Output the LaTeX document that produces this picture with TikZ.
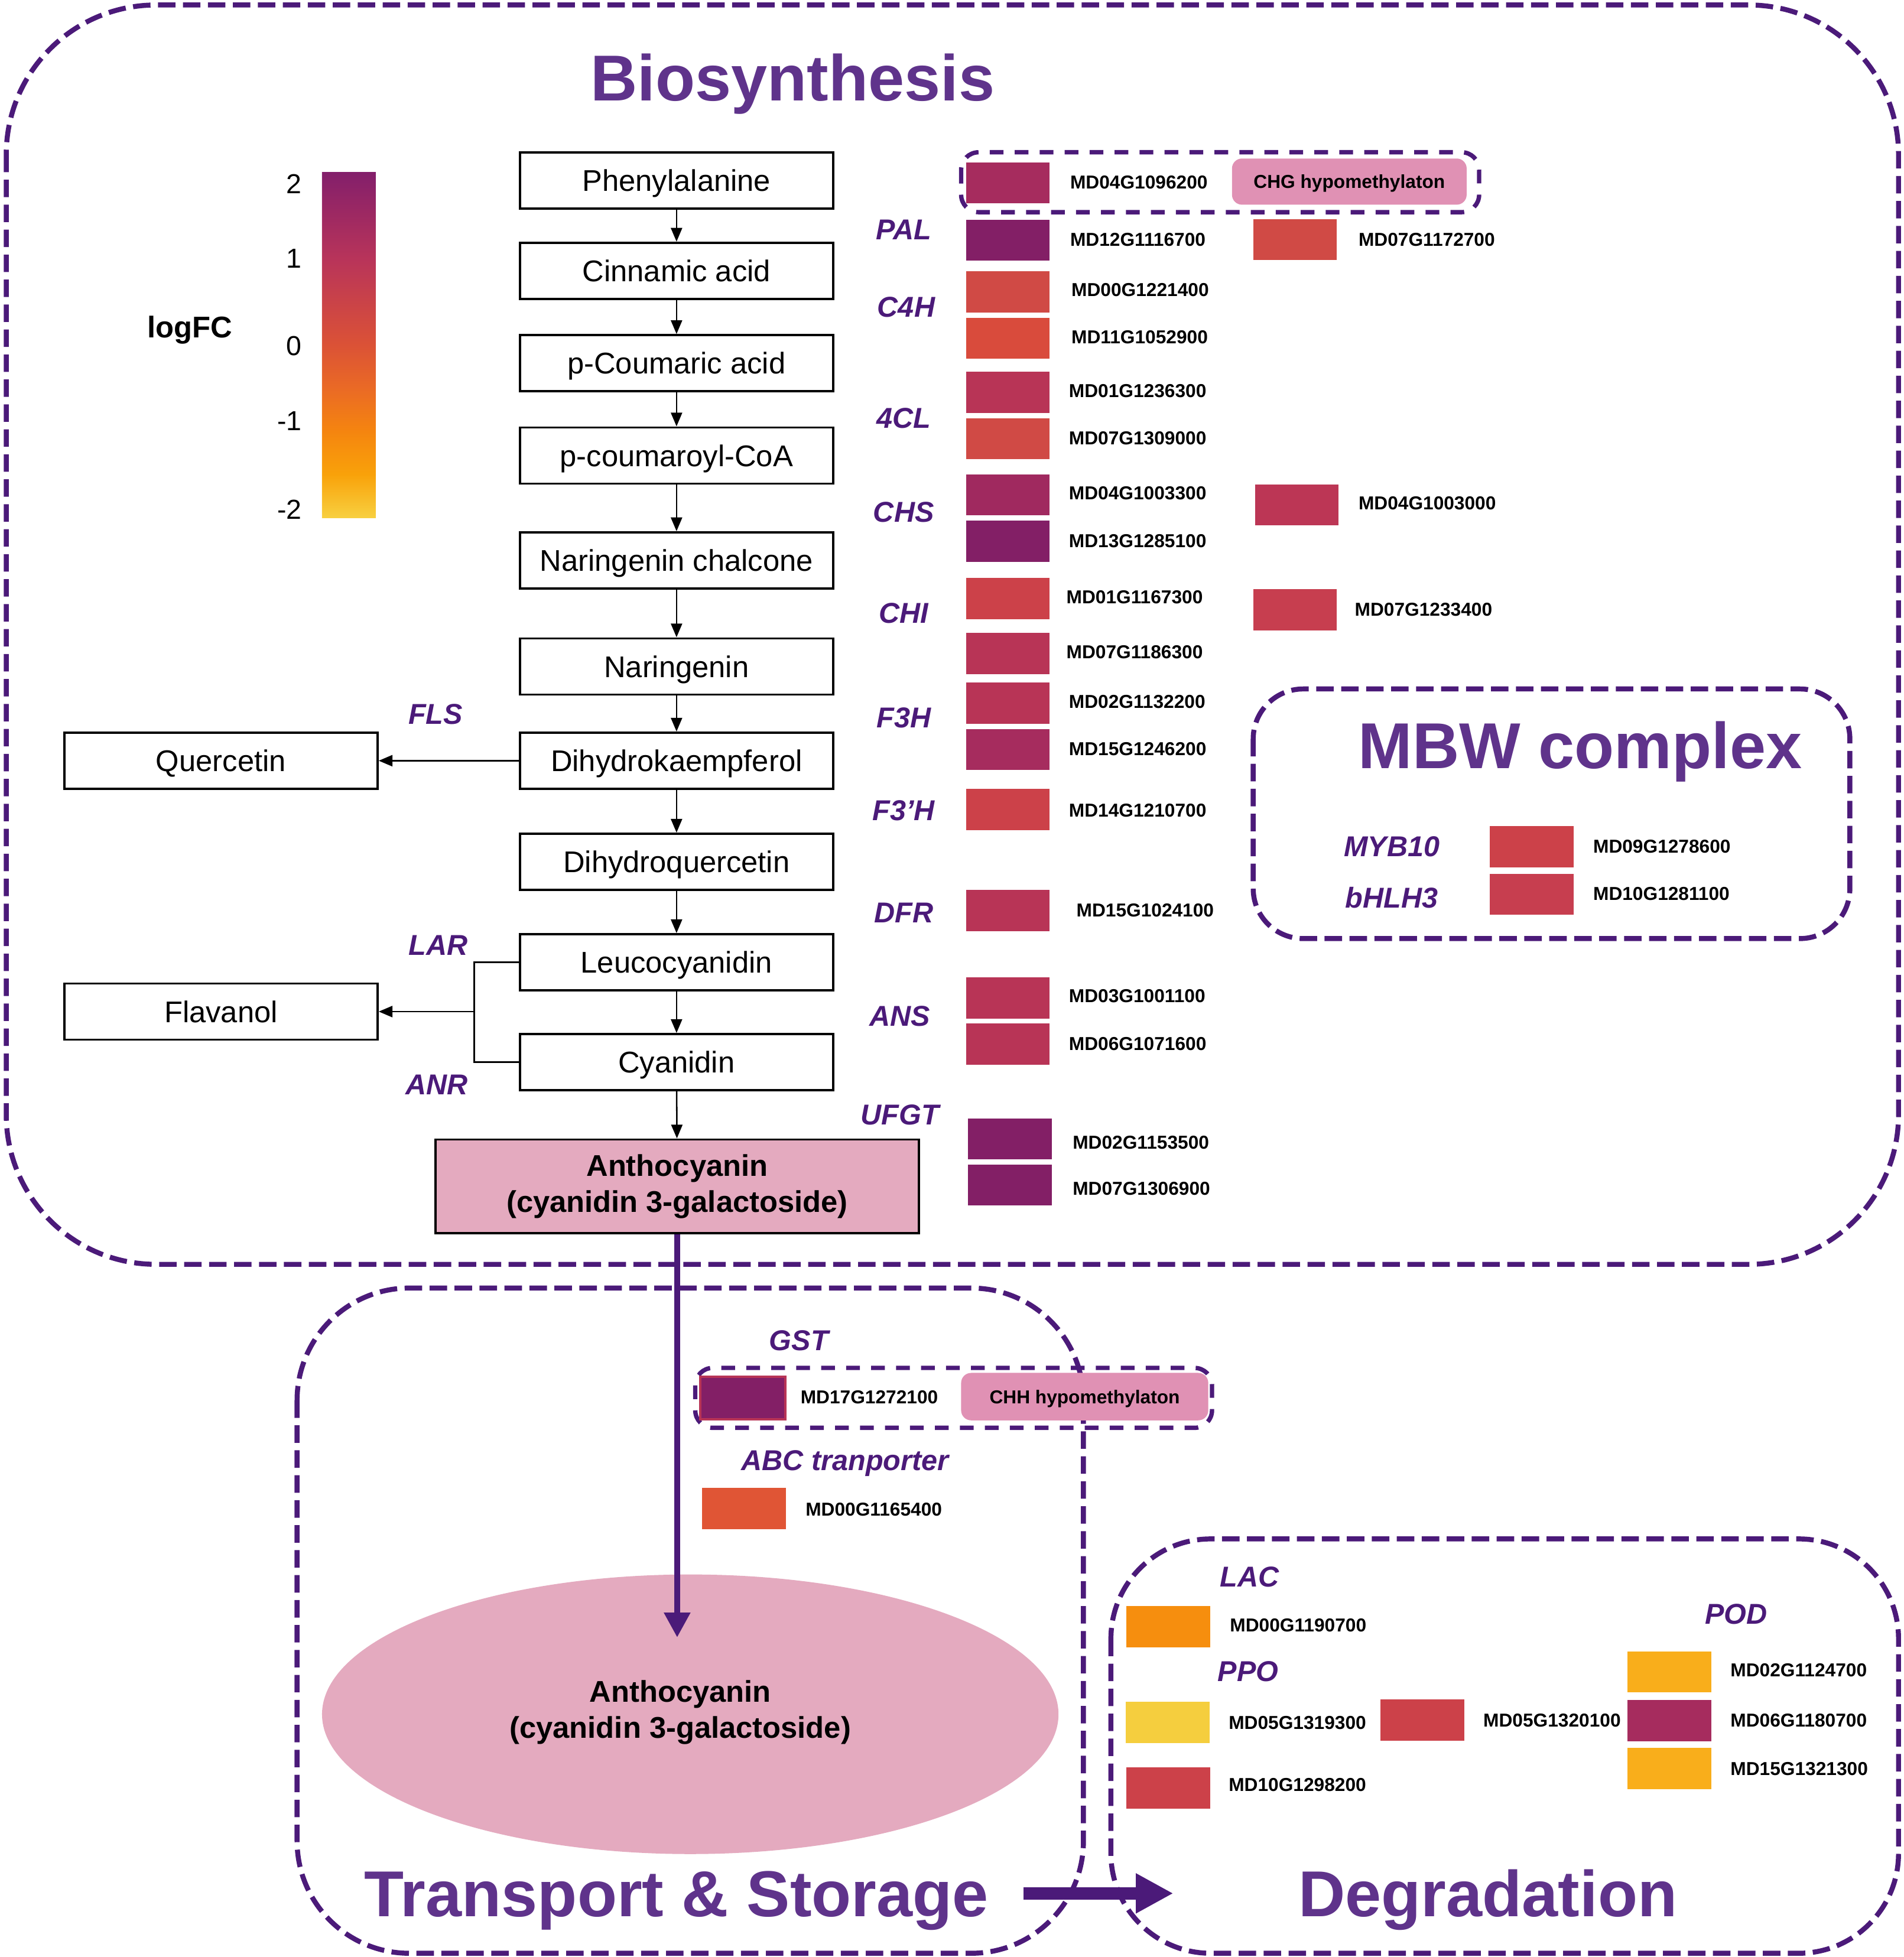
\documentclass[tikz,border=0pt]{standalone}
\usepackage{fontspec}
\setmainfont{Liberation Sans}
\usetikzlibrary{arrows.meta,shapes.geometric}
\definecolor{dashc}{HTML}{4B1A79}
\definecolor{ttlc}{HTML}{5F338B}
\definecolor{labc}{HTML}{4B1A79}
\definecolor{pinkA}{HTML}{E4AABF}
\definecolor{pinkB}{HTML}{E091B4}
\definecolor{gP}{HTML}{831F66}
\definecolor{gM}{HTML}{A62C5E}
\definecolor{gMb}{HTML}{A0295F}
\definecolor{gRa}{HTML}{B83456}
\definecolor{gRb}{HTML}{BC3655}
\definecolor{gRc}{HTML}{C73E4F}
\definecolor{gRd}{HTML}{CC4149}
\definecolor{gRe}{HTML}{D04A45}
\definecolor{gOa}{HTML}{D94B3C}
\definecolor{gOb}{HTML}{E05535}
\definecolor{gO}{HTML}{F68E0E}
\definecolor{gA}{HTML}{F9AE1B}
\definecolor{gY}{HTML}{F5CE3E}
\definecolor{cbP}{HTML}{831F6B}
\definecolor{cbMb}{HTML}{9E2962}
\definecolor{cbM}{HTML}{B8345A}
\definecolor{cbRb}{HTML}{CA4348}
\definecolor{cbR}{HTML}{DB5236}
\definecolor{cbOb}{HTML}{EA6A25}
\definecolor{cbO}{HTML}{F5850F}
\definecolor{cbYb}{HTML}{F9A20A}
\definecolor{cbY}{HTML}{F8D040}
\pgfdeclareverticalshading{logfc}{100bp}{color(0bp)=(cbY); color(25bp)=(cbY); color(31.25bp)=(cbYb); color(37.5bp)=(cbO); color(43.75bp)=(cbOb); color(50bp)=(cbR); color(56.25bp)=(cbRb); color(62.5bp)=(cbM); color(68.75bp)=(cbMb); color(75bp)=(cbP); color(100bp)=(cbP)}
\tikzset{
  pbox/.style={draw, line width=0.9pt, minimum width=125.5pt, minimum height=22.5pt, inner sep=0pt, text height=8.6pt, text depth=0pt, font=\fontsize{12}{14.5}\selectfont},
  gbox/.style={minimum width=33.5pt, minimum height=16.5pt, inner sep=0pt},
  glab/.style={anchor=west, inner sep=0pt, text height=5.4pt, text depth=0pt, font=\bfseries\fontsize{7.5}{9}\selectfont},
  enz/.style={inner sep=0pt, text height=8.2pt, text depth=0pt, text=labc, font=\bfseries\itshape\fontsize{11.5}{13}\selectfont},
  ttl/.style={inner sep=0pt, text height=18.6pt, text depth=0pt, text=ttlc, font=\bfseries\fontsize{26}{30}\selectfont},
  bigbox/.style={draw=dashc, line width=2pt, dash pattern=on 7pt off 3pt},
  smallbox/.style={draw=dashc, line width=1.75pt, dash pattern=on 5.5pt off 4.5pt},
  pinkbox/.style={fill=pinkB, rounded corners=4pt, inner sep=0pt, text height=5.4pt, text depth=0pt, font=\bfseries\fontsize{7.5}{9}\selectfont},
  arr/.style={-{Triangle[length=5.5pt,width=4.5pt]}, line width=0.6pt},
  cbl/.style={anchor=east, inner sep=0pt, text height=7.9pt, text depth=0pt, font=\fontsize{11}{13}\selectfont},
}
\newcommand{\gbx}[4]{\node[gbox, fill=#3] (#4) at (#1,#2) {};}
\newcommand{\glb}[4]{\node[glab] (#4) at (#1,#2) {#3};}
\begin{document}
\begin{tikzpicture}[x=0.5pt,y=-0.5pt]
\useasboundingbox (0,0) rectangle (1525,1568);

% ---------- containers ----------
\draw[bigbox, rounded corners=60pt] (5,4) rectangle (1521,1013);
\draw[bigbox, rounded corners=45pt] (238,1032) rectangle (868,1565);
\draw[bigbox, rounded corners=40pt] (890,1233) rectangle (1521,1565);
\draw[bigbox, rounded corners=20pt] (1004,552) rectangle (1482,752);
\draw[smallbox, rounded corners=7pt] (770,122) rectangle (1185,170);
\draw[smallbox, rounded corners=7pt] (557,1096) rectangle (971,1144);

% ---------- titles ----------
\node[ttl] (tbio) at (635,62) {Biosynthesis};
\node[ttl] (tmbw) at (1266,597) {MBW complex};
\node[ttl] (ttra) at (542,1517) {Transport \& Storage};
\node[ttl] (tdeg) at (1192,1517) {Degradation};

% ---------- colour bar ----------
\shade[shading=logfc] (258,138) rectangle (301,415);
\node[cbl] (c2) at (242,147) {2};
\node[cbl] (c1) at (242,207) {1};
\node[cbl] (c0) at (242,277) {0};
\node[cbl] (cm1) at (242,337) {-1};
\node[cbl] (cm2) at (242,408) {-2};
\node[inner sep=0pt, text height=8.6pt, text depth=0pt, font=\bfseries\fontsize{12}{14}\selectfont] (lfc) at (152,262) {logFC};

% ---------- pathway ----------
\node[pbox] (phe) at (542,144.5) {Phenylalanine};
\node[pbox] (cin) at (542,217) {Cinnamic acid};
\node[pbox] (pca) at (542,291) {p-Coumaric acid};
\node[pbox] (pcc) at (542,365) {p-coumaroyl-CoA};
\node[pbox] (nch) at (542,449) {Naringenin chalcone};
\node[pbox] (nar) at (542,534) {Naringenin};
\node[pbox] (dhk) at (542,609.5) {Dihydrokaempferol};
\node[pbox] (dhq) at (542,690.5) {Dihydroquercetin};
\node[pbox] (leu) at (542,771) {Leucocyanidin};
\node[pbox] (cya) at (542,851) {Cyanidin};
\node[pbox] (que) at (177,609.5) {Quercetin};
\node[pbox] (fla) at (177,810.5) {Flavanol};
\node[draw, line width=0.9pt, inner sep=0pt, fill=pinkA, minimum width=193.5pt, minimum height=37.5pt, align=center, font=\bfseries\fontsize{12}{14.5}\selectfont] (ant) at (542.5,950.5) {Anthocyanin\\(cyanidin 3-galactoside)};

\draw[arr] (phe) -- (cin);
\draw[arr] (cin) -- (pca);
\draw[arr] (pca) -- (pcc);
\draw[arr] (pcc) -- (nch);
\draw[arr] (nch) -- (nar);
\draw[arr] (nar) -- (dhk);
\draw[arr] (dhk) -- (dhq);
\draw[arr] (dhq) -- (leu);
\draw[arr] (leu) -- (cya);
\draw[arr] (cya) -- (ant);
\draw[arr] (dhk) -- (que);
\coordinate (brk) at (380,810.5);
\draw[line width=0.6pt] (leu.west) -| (brk) |- (cya.west);
\draw[arr] (brk) -- (fla.east);

% ---------- enzyme labels ----------
\node[enz] (ePAL) at (724,184) {PAL};
\node[enz] (eC4H) at (726,246) {C4H};
\node[enz] (e4CL) at (724,335) {4CL};
\node[enz] (eCHS) at (724,410) {CHS};
\node[enz] (eCHI) at (724,491) {CHI};
\node[enz] (eF3H) at (724,575) {F3H};
\node[enz] (eF3pH) at (724,649) {F3’H};
\node[enz] (eDFR) at (724,731) {DFR};
\node[enz] (eANS) at (721,814) {ANS};
\node[enz] (eUFGT) at (721,893) {UFGT};
\node[enz] (eFLS) at (349,572) {FLS};
\node[enz] (eLAR) at (351,757) {LAR};
\node[enz] (eANR) at (350,869) {ANR};
\node[enz] (eGST) at (640,1074) {GST};
\node[enz] (eABC) at (677,1170) {ABC tranporter};
\node[enz] (eLAC) at (1001,1263) {LAC};
\node[enz] (ePPO) at (1000,1339) {PPO};
\node[enz] (ePOD) at (1391,1293) {POD};
\node[enz] (eMYB) at (1115,678) {MYB10};
\node[enz] (ebHLH) at (1115,719) {bHLH3};

% ---------- gene boxes ----------
\gbx{807.5}{146.5}{gM}{g1}   \glb{857}{146}{MD04G1096200}{l1}
\node[pinkbox, minimum width=94pt, minimum height=18.5pt] (chg) at (1081,145.5) {CHG hypomethylaton};
\gbx{807.5}{192.5}{gP}{g2}   \glb{857}{192}{MD12G1116700}{l2}
\gbx{1037.5}{192}{gRe}{g3}   \glb{1088}{192}{MD07G1172700}{l3}
\gbx{807.5}{234}{gRe}{g4}    \glb{858}{232}{MD00G1221400}{l4}
\gbx{807.5}{271}{gOa}{g5}    \glb{858}{270}{MD11G1052900}{l5}
\gbx{807.5}{314.5}{gRa}{g6}  \glb{856}{313}{MD01G1236300}{l6}
\gbx{807.5}{351.5}{gRe}{g7}  \glb{856}{351}{MD07G1309000}{l7}
\gbx{807.5}{396.5}{gMb}{g8}  \glb{856}{395}{MD04G1003300}{l8}
\gbx{807.5}{433.5}{gP}{g9}   \glb{856}{433}{MD13G1285100}{l9}
\gbx{1039}{404.5}{gRb}{g10}  \glb{1088}{403}{MD04G1003000}{l10}
\gbx{807.5}{479.5}{gRd}{g11} \glb{854}{478}{MD01G1167300}{l11}
\gbx{1037.5}{488.5}{gRc}{g12} \glb{1085}{488}{MD07G1233400}{l12}
\gbx{807.5}{523.5}{gRa}{g13} \glb{854}{522}{MD07G1186300}{l13}
\gbx{807.5}{563.5}{gRa}{g14} \glb{856}{562}{MD02G1132200}{l14}
\gbx{807.5}{600.5}{gM}{g15}  \glb{856}{600}{MD15G1246200}{l15}
\gbx{807.5}{648.5}{gRd}{g16} \glb{856}{649}{MD14G1210700}{l16}
\gbx{807.5}{729.5}{gRa}{g17} \glb{862}{729}{MD15G1024100}{l17}
\gbx{807.5}{799.5}{gRa}{g18} \glb{856}{798}{MD03G1001100}{l18}
\gbx{807.5}{836.5}{gRa}{g19} \glb{856}{836}{MD06G1071600}{l19}
\gbx{809}{912.5}{gP}{g20}    \glb{859}{915}{MD02G1153500}{l20}
\gbx{809}{949.5}{gP}{g21}    \glb{859}{952}{MD07G1306900}{l21}
% MBW
\gbx{1227}{678.5}{gRd}{g22}  \glb{1276}{678}{MD09G1278600}{l22}
\gbx{1227}{716.5}{gRc}{g23}  \glb{1276}{716}{MD10G1281100}{l23}
% transport
\node[gbox, fill=gP, draw=gRa, line width=1pt, minimum width=34pt, minimum height=17pt] (g24) at (595,1120) {};
\glb{641}{1119}{MD17G1272100}{l24}
\node[pinkbox, minimum width=99pt, minimum height=19pt] (chh) at (869,1119) {CHH hypomethylaton};
\gbx{596}{1208.5}{gOb}{g25}  \glb{645}{1209}{MD00G1165400}{l25}
% degradation
\gbx{936}{1303.5}{gO}{g26}   \glb{985}{1302}{MD00G1190700}{l26}
\gbx{935.5}{1380}{gY}{g27}   \glb{984}{1380}{MD05G1319300}{l27}
\gbx{1139.5}{1378}{gRd}{g28} \glb{1188}{1378}{MD05G1320100}{l28}
\gbx{936}{1432.5}{gRd}{g29}  \glb{984}{1430}{MD10G1298200}{l29}
\gbx{1337.5}{1339.5}{gA}{g30} \glb{1386}{1338}{MD02G1124700}{l30}
\gbx{1337.5}{1378.5}{gM}{g31} \glb{1386}{1378}{MD06G1180700}{l31}
\gbx{1337.5}{1417}{gA}{g32}  \glb{1386}{1417}{MD15G1321300}{l32}

% ---------- vacuole ----------
\node[ellipse, fill=pinkA, minimum width=295pt, minimum height=112pt, inner sep=0pt] (vac) at (553,1373.5) {};
\node[inner sep=0pt, align=center, font=\bfseries\fontsize{12}{14.5}\selectfont] (vtxt) at (545,1372) {Anthocyanin\\(cyanidin 3-galactoside)};

% ---------- big arrows ----------
\coordinate (aend) at (542.5,1312);
\draw[dashc, line width=2.5pt, -{Triangle[length=10pt,width=10pt]}] (ant.south) -- (aend);
\coordinate (hs) at (820,1517);
\coordinate (he) at (940,1517);
\draw[dashc, line width=5pt, -{Triangle[length=15pt,width=15pt]}] (hs) -- (he);
\end{tikzpicture}
\end{document}
